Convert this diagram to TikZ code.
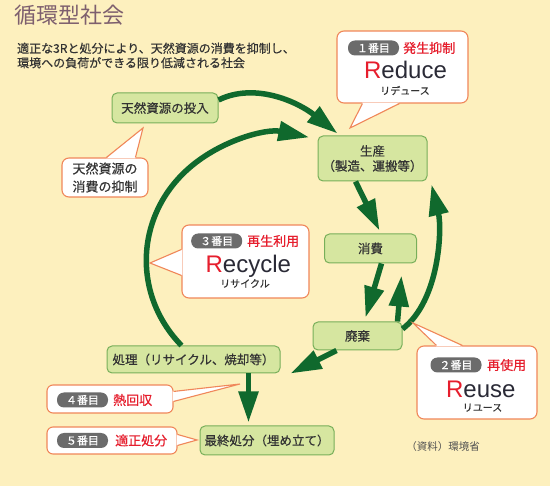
\documentclass[tikz,border=0pt]{standalone}
\usepackage{fontspec}
\setmainfont{Noto Sans CJK JP}
\newfontfamily\jpm{Noto Sans CJK JP}[FakeBold=0.5]
\newfontfamily\latf{Liberation Sans}
\usetikzlibrary{arrows.meta,calc}
\definecolor{bgc}{HTML}{FDF0BE}
\definecolor{nfill}{HTML}{D6E6A0}
\definecolor{nline}{HTML}{78AF5A}
\definecolor{agreen}{HTML}{10692D}
\definecolor{oline}{HTML}{F0875A}
\definecolor{rtext}{HTML}{E61E2D}
\definecolor{dtext}{HTML}{333333}
\definecolor{ttext}{HTML}{7D5F6E}
\definecolor{bgray}{HTML}{6B6B6B}
\definecolor{wtext}{HTML}{2A2A36}
\begin{document}
\begin{tikzpicture}[x=1pt,y=-1pt,
 gbox/.style={draw=nline, line width=1pt, fill=nfill, rounded corners=5pt, inner sep=0pt, text=dtext, font=\jpm\fontsize{12.5}{15}\selectfont, align=center},
 cbox/.style={draw=oline, line width=1.1pt, fill=white, rounded corners=7pt, inner sep=0pt},
 ptr/.style={draw=oline, line width=1.1pt, line join=miter},
 badge/.style={fill=bgray, rounded corners=7pt, text=white, minimum width=51pt, minimum height=15pt, inner sep=0pt, font=\jpm\fontsize{11}{11}\selectfont},
 redt/.style={text=rtext, anchor=west, inner sep=0pt, font=\jpm\fontsize{13}{13}\selectfont},
 bigw/.style={anchor=base, inner sep=0pt, text=wtext, font=\latf\fontsize{24}{24}\selectfont},
 kana/.style={inner sep=0pt, text=dtext, font=\jpm\fontsize{10}{10}\selectfont},
 garrow/.style={draw=agreen, line width=5.5pt, -{Triangle[length=31pt,width=19pt]}},
]
\fill[bgc] (0,0) rectangle (550,486);
\useasboundingbox (0,0) rectangle (550,486);

% title and subtitle
\node[anchor=west, inner sep=0pt, text=ttext, font=\fontsize{22}{22}\selectfont] (title) at (14,15) {循環型社会};
\node[anchor=west, inner sep=0pt, align=left, text=dtext, font=\jpm\fontsize{12}{14.5}\selectfont] (subt) at (17,55.5) {適正な3Rと処分により、天然資源の消費を抑制し、\\環境への負荷ができる限り低減される社会};

% green nodes
\node[gbox, minimum width=106pt, minimum height=30pt] (n_input) at (165,108) {天然資源の投入};
\node[gbox, minimum width=109pt, minimum height=45pt] (n_prod) at (372.5,158.5) {生産\\（製造、運搬等）};
\node[gbox, minimum width=92pt, minimum height=29pt] (n_cons) at (370.5,248.5) {消費};
\node[gbox, minimum width=89pt, minimum height=28pt] (n_waste) at (357.5,336) {廃棄};
\node[gbox, minimum width=173pt, minimum height=27pt] (n_proc) at (193.5,359.5) {処理（リサイクル、焼却等）};
\node[gbox, minimum width=134pt, minimum height=29pt] (n_final) at (267,440.5) {最終処分（埋め立て）};

% arrows
\draw[garrow] ([yshift=8pt]n_input.east) .. controls (255,82) and (298,102) .. ([xshift=20pt,yshift=2pt]n_prod.north west);
\draw[garrow] ([xshift=75pt]n_proc.north west) arc[start angle=137.5, end angle=282.5, x radius=134, y radius=126];
\draw[garrow] ([xshift=-17pt]n_prod.south) -- ([xshift=9pt,yshift=3pt]n_cons.north);
\draw[garrow] ([xshift=11pt]n_cons.south) -- ([xshift=8pt,yshift=4pt]n_waste.north);
\draw[garrow] ([xshift=40pt]n_waste.north) -- ([xshift=31pt,yshift=-12pt]n_cons.south);
\draw[garrow] ([yshift=7pt]n_waste.east) .. controls (440,300) and (442,228) .. ([xshift=4pt,yshift=-3pt]n_prod.south east);
\draw[garrow] ([xshift=24pt]n_waste.south west) -- ([xshift=10pt]n_proc.south east);
\coordinate (p8s) at ([xshift=55pt]n_proc.south);
\draw[garrow, shorten >=3pt] (p8s) -- (p8s |- n_final.north);

% Reduce callout
\node[cbox, minimum width=131pt, minimum height=72pt] (c_reduce) at (402.5,67) {};
\coordinate (t_reduce) at (350,128);
\fill[white] ([xshift=26pt,yshift=1pt]c_reduce.south west) -- (t_reduce) -- ([xshift=63pt,yshift=1pt]c_reduce.south west) -- cycle;
\draw[ptr] ([xshift=26pt]c_reduce.south west) -- (t_reduce) -- ([xshift=63pt]c_reduce.south west);
\node[badge] (b1) at (373.5,48) {１番目};
\node[redt] (r1) at (403,48) {発生抑制};
\node[bigw] (w1) at (405.5,78.7) {\textcolor{rtext}{R}educe};
\node[kana] (k1) at (405,90.5) {リデュース};

% Recycle callout
\node[cbox, minimum width=127pt, minimum height=73pt] (c_recycle) at (245.5,261.5) {};
\coordinate (t_recycle) at (150,263);
\fill[white] ([xshift=1pt,yshift=-25pt]c_recycle.north west) -- (t_recycle) -- ([xshift=1pt,yshift=-51pt]c_recycle.north west) -- cycle;
\draw[ptr] ([yshift=-25pt]c_recycle.north west) -- (t_recycle) -- ([yshift=-51pt]c_recycle.north west);
\node[badge] (b3) at (216.7,241) {３番目};
\node[redt] (r3) at (247,241) {再生利用};
\node[bigw] (w3) at (248.3,272.3) {\textcolor{rtext}{R}ecycle};
\node[kana] (k3) at (245,283.5) {リサイクル};

% Reuse callout
\node[cbox, minimum width=120pt, minimum height=73pt] (c_reuse) at (477,382.5) {};
\coordinate (t_reuse) at (413,323);
\fill[white] ([xshift=20pt,yshift=-1pt]c_reuse.north west) -- (t_reuse) -- ([xshift=46pt,yshift=-1pt]c_reuse.north west) -- cycle;
\draw[ptr] ([xshift=20pt]c_reuse.north west) -- (t_reuse) -- ([xshift=46pt]c_reuse.north west);
\node[badge] (b2) at (456,365) {２番目};
\node[redt] (r2) at (487,365) {再使用};
\node[bigw] (w2) at (480.8,397.3) {\textcolor{rtext}{R}euse};
\node[kana] (k2) at (482.5,407.7) {リユース};

% resource suppression callout
\node[cbox, minimum width=86pt, minimum height=39pt, text=dtext, align=left, font=\jpm\fontsize{13}{18}\selectfont] (c_shigen) at (105,177.5) {天然資源の\\消費の抑制};
\coordinate (t_shigen) at (143,128);
\fill[white] ([xshift=45pt,yshift=-1pt]c_shigen.north west) -- (t_shigen) -- ([xshift=74pt,yshift=-1pt]c_shigen.north west) -- cycle;
\draw[ptr] ([xshift=45pt]c_shigen.north west) -- (t_shigen) -- ([xshift=74pt]c_shigen.north west);

% heat recovery callout
\node[cbox, rounded corners=6pt, minimum width=126pt, minimum height=28pt] (c_heat) at (110,399) {};
\coordinate (t_heat) at (240,384);
\fill[white] ([xshift=-1pt,yshift=-7pt]c_heat.north east) -- (t_heat) -- ([xshift=-1pt,yshift=-17pt]c_heat.north east) -- cycle;
\draw[ptr] ([yshift=-7pt]c_heat.north east) -- (t_heat) -- ([yshift=-17pt]c_heat.north east);
\node[badge] (b4) at (82.5,400) {４番目};
\node[redt] (r4) at (113,400) {熱回収};

% proper disposal callout
\node[cbox, rounded corners=6pt, minimum width=130pt, minimum height=27pt] (c_disp) at (112,440.5) {};
\coordinate (t_disp) at (197,440);
\fill[white] ([xshift=-1pt,yshift=-8pt]c_disp.north east) -- (t_disp) -- ([xshift=-1pt,yshift=-19pt]c_disp.north east) -- cycle;
\draw[ptr] ([yshift=-8pt]c_disp.north east) -- (t_disp) -- ([yshift=-19pt]c_disp.north east);
\node[badge] (b5) at (82.5,440.5) {５番目};
\node[redt] (r5) at (115,440.5) {適正処分};

% source
\node[inner sep=0pt, text=dtext!85, font=\fontsize{10.5}{10.5}\selectfont] (src) at (443,446.5) {（資料）環境省};
\end{tikzpicture}
\end{document}
